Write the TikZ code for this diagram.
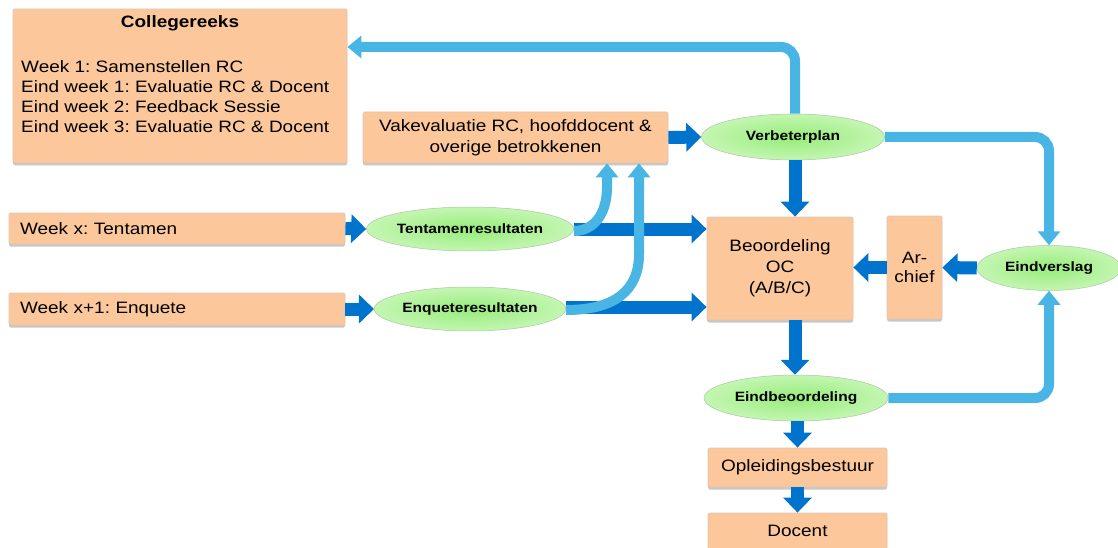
\documentclass[tikz,border=0pt]{standalone}
\usepackage{fontspec}
\setmainfont[FakeStretch=1.15]{Liberation Sans}
\usetikzlibrary{arrows.meta,shapes.geometric,calc,shadows}
\definecolor{peach}{RGB}{252,200,155}
\definecolor{peachline}{RGB}{222,198,180}
\definecolor{darkblue}{RGB}{0,116,204}
\definecolor{lightblue}{RGB}{72,181,228}
\definecolor{greenin}{RGB}{150,236,122}
\definecolor{greenout}{RGB}{196,246,178}
\definecolor{greenline}{RGB}{170,200,160}
\frenchspacing
\begin{document}
\begin{tikzpicture}[x=1pt,y=-1pt,
  box/.style={draw=peachline, line width=0.8pt, fill=peach, rounded corners=1.5pt,
    inner sep=0pt, align=center, font=\fontsize{16.5}{21}\selectfont,
    drop shadow={shadow xshift=0pt, shadow yshift=-2.5pt, fill=black!22, opacity=1}},
  ell/.style={ellipse, draw=greenline, line width=0.5pt, inner color=greenin, outer color=greenout,
    inner sep=0pt, font=\bfseries\fontsize{13.5}{15}\selectfont},
  txt/.style={inner sep=0pt},
  darr/.style={draw=darkblue, line width=13pt, -{Triangle[length=15pt,width=28pt]}},
  larr/.style={draw=lightblue, line width=10pt, rounded corners=14pt, -{Triangle[length=14pt,width=22pt]}},
  larrc/.style={draw=lightblue, line width=10pt, -{Triangle[length=14pt,width=22pt]}}
]
\useasboundingbox (0,0) rectangle (1118,548);

% boxes
\node[box, minimum width=334pt, minimum height=154pt] (coll) at (180,86) {};
\node[txt, font=\bfseries\fontsize{16.5}{20}\selectfont] (colltitle) at (180,23) {Collegereeks};
\node[txt, anchor=west, align=left, font=\fontsize{16.5}{20}\selectfont] (colltext) at (21,97)
  {Week 1: Samenstellen RC\\Eind week 1: Evaluatie RC \& Docent\\Eind week 2: Feedback Sessie\\Eind week 3: Evaluatie RC \& Docent};

\node[box, minimum width=305pt, minimum height=51pt] (vak) at (515.5,137.5)
  {Vakevaluatie RC, hoofddocent \&\\overige betrokkenen};

\node[box, text width=314pt, inner xsep=11pt, minimum height=31pt, align=left] (wx) at (177,228.5) {Week x: Tentamen};
\node[box, text width=314pt, inner xsep=11pt, minimum height=32pt, align=left] (wx1) at (177,309) {Week x+1: Enquete};

\node[box, minimum width=146pt, minimum height=103pt] (beo) at (780,268.5) {Beoordeling\\OC\\(A/B/C)};
\node[box, minimum width=55pt, minimum height=103pt, font=\fontsize{16.5}{19}\selectfont] (arch) at (914.5,267.5) {Ar-\\chief};
\node[box, minimum width=179pt, minimum height=39pt] (opl) at (797.5,467.5) {Opleidingsbestuur};
\node[box, minimum width=179pt, minimum height=36pt] (doc) at (797.5,531) {Docent};

% ellipses
\node[ell, minimum width=184pt, minimum height=44pt] (tent) at (470,229) {Tentamenresultaten};
\node[ell, minimum width=184pt, minimum height=44pt] (enq) at (470,309) {Enqueteresultaten};
\node[ell, minimum width=183pt, minimum height=46pt] (verb) at (793,137) {Verbeterplan};
\node[ell, minimum width=144pt, minimum height=45pt] (eindv) at (1049,268) {Eindverslag};
\node[ell, minimum width=184pt, minimum height=46pt] (eindb) at (796,398) {Eindbeoordeling};

\coordinate (xv) at (795,0);
\coordinate (xr) at (1049,0);
\coordinate (ytop) at (0,47);
\coordinate (xc1) at (607,0);
\coordinate (xc2) at (639,0);

% dark arrows
\draw[darr] (wx.east) -- (tent.west);
\draw[darr] (wx1.east) -- (enq.west);
\draw[darr] (tent.east) -- (tent.east -| beo.west);
\draw[darr] ([yshift=2pt]enq.east) -- ([yshift=2pt]enq.east -| beo.west);
\draw[darr] (vak.east) -- (verb.west);
\draw[darr] (verb.south -| xv) -- (beo.north -| xv);
\draw[darr] (beo.south -| xv) -- (eindb.north -| xv);
\draw[darr] (eindv.west) -- (arch.east);
\draw[darr] (arch.west) -- (arch.west -| beo.east);
\draw[darr] (opl.north |- eindb.south) -- (opl.north);
\draw[darr] (opl.south) -- (doc.north);

% light blue arrows
\draw[larr] (verb.north -| xv) -- (xv |- ytop) -- (coll.east |- ytop);
\draw[larr] (verb.east) -- (xr |- verb.east) -- (eindv.north);
\draw[larr] (eindb.east) -- (xr |- eindb.east) -- (eindv.south);
\draw[larrc] ([yshift=-2pt]tent.east) .. controls ($(xc1 |- tent.east)+(-14,2)$) and ($(xc1 |- tent.east)+(0,-14)$) .. ($(xc1 |- tent.east)+(0,-42)$) -- (xc1 |- vak.south);
\draw[larrc] ([yshift=-1pt]enq.east) .. controls ($(xc2 |- enq.east)+(-25,1)$) and ($(xc2 |- enq.east)+(0,-18)$) .. ($(xc2 |- enq.east)+(0,-55)$) -- (xc2 |- vak.south);
\end{tikzpicture}
\end{document}
